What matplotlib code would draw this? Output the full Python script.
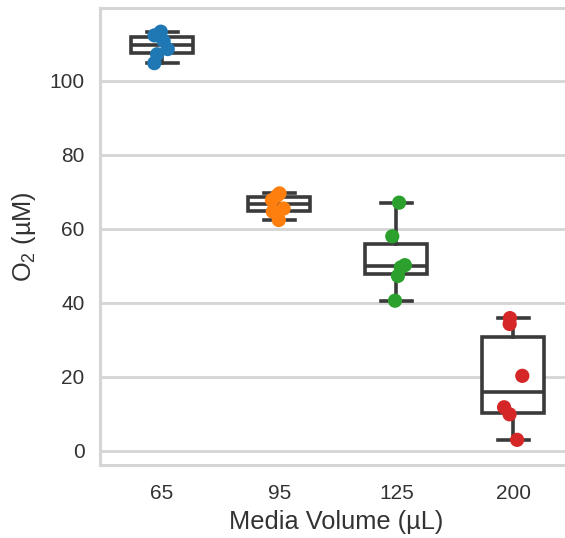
import numpy as np
import matplotlib
matplotlib.use("Agg")
import matplotlib.pyplot as plt

# ---- data ----
categories = ["65", "95", "125", "200"]
vals_65 = [104.8, 107.2, 108.6, 110.8, 112.3, 113.3]
vals_95 = [62.4, 64.7, 65.5, 67.8, 69.0, 69.6]
vals_125 = [40.6, 47.3, 49.6, 50.2, 58.0, 67.1]
vals_200 = [3.0, 9.9, 11.8, 20.3, 34.3, 35.9]
colors = ["#1f77b4", "#ff7f0e", "#2ca02c", "#d62728"]
yticks = [0, 20, 40, 60, 80, 100]
xlabel = "Media Volume (µL)"
ylabel = r"O$_\mathregular{2}$ (µM)"

groups = [vals_65, vals_95, vals_125, vals_200]

plt.rcParams["font.family"] = ["Liberation Sans", "DejaVu Sans"]
plt.rcParams["mathtext.fontset"] = "custom"
plt.rcParams["mathtext.rm"] = "Liberation Sans"

fig = plt.figure(figsize=(5.65, 5.38), dpi=100)
ax = fig.add_axes([100 / 565, 1 - 465 / 538, (572 - 100) / 565, (465 - 8) / 538])

text_col = "#333333"
grid_col = "#d5d5d5"
line_col = "#3a3a3a"

positions = np.arange(len(categories))
ax.boxplot(groups, positions=positions, widths=0.53, whis=1.5, patch_artist=True,
           showfliers=False,
           boxprops=dict(facecolor="white", edgecolor=line_col, linewidth=2.6),
           whiskerprops=dict(color=line_col, linewidth=2.6),
           capprops=dict(color=line_col, linewidth=2.6),
           medianprops=dict(color=line_col, linewidth=2.6),
           zorder=2)

rng = np.random.default_rng(3)
for i, (g, c) in enumerate(zip(groups, colors)):
    jit = rng.uniform(-0.08, 0.08, len(g))
    ax.scatter(i + jit, g, s=105, color=c, edgecolors="none", zorder=3)

ax.set_xlim(-0.53, 3.5)
ax.set_ylim(-3.8, 119.7)
ax.set_xticks(positions)
ax.set_xticklabels(categories)
ax.set_yticks(yticks)

ax.set_axisbelow(True)
ax.yaxis.grid(True, color=grid_col, linewidth=2)
ax.xaxis.grid(False)
for s in ax.spines.values():
    s.set_color(grid_col)
    s.set_linewidth(2.2)

ax.tick_params(axis="both", length=0, labelsize=15, colors=text_col)
ax.tick_params(axis="y", pad=11)
ax.tick_params(axis="x", pad=14)
ax.set_xlabel(xlabel, fontsize=18.3, color=text_col, labelpad=5)
ax.set_ylabel(ylabel, fontsize=18.3, color=text_col, labelpad=8)

fig.savefig("out.png", dpi=100)
